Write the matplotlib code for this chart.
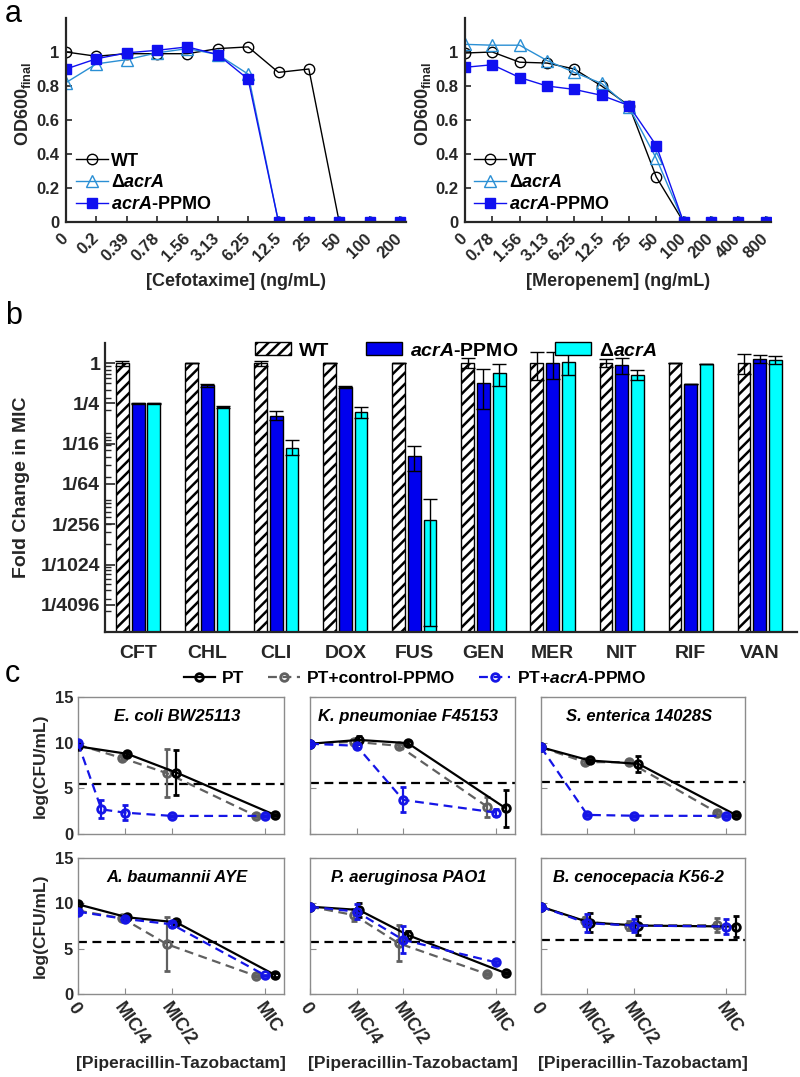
import numpy as np
import matplotlib
matplotlib.use('Agg')
import matplotlib.pyplot as plt
from matplotlib.lines import Line2D
from matplotlib.patches import Patch
from matplotlib.ticker import FixedLocator, NullFormatter, FixedFormatter

plt.rcParams['font.family'] = ['Liberation Sans', 'DejaVu Sans']
plt.rcParams['font.weight'] = 'bold'
plt.rcParams['axes.labelweight'] = 'bold'
plt.rcParams['hatch.linewidth'] = 1.8
plt.rcParams['mathtext.fontset'] = 'custom'
plt.rcParams['mathtext.rm'] = 'Liberation Sans:bold'
plt.rcParams['mathtext.it'] = 'Liberation Sans:italic:bold'
plt.rcParams['mathtext.bf'] = 'Liberation Sans:bold'
TXT = '#262626'

# ---------------- data: panel a ----------------
cefo_labels = ['0', '0.2', '0.39', '0.78', '1.56', '3.13', '6.25', '12.5', '25', '50', '100', '200']
cefo_wt = [1.00, 0.975, 0.99, 0.99, 0.99, 1.02, 1.03, 0.88, 0.90, 0, 0, 0]
cefo_dacrA = [0.82, 0.93, 0.955, 0.995, 1.02, 0.985, 0.87, 0, 0, 0, 0, 0]
cefo_ppmo = [0.90, 0.96, 0.995, 1.01, 1.03, 0.985, 0.84, 0, 0, 0, 0, 0]
mero_labels = ['0', '0.78', '1.56', '3.13', '6.25', '12.5', '25', '50', '100', '200', '400', '800']
mero_wt = [0.994, 1.0, 0.94, 0.935, 0.90, 0.80, 0.685, 0.265, 0, 0, 0, 0]
mero_dacrA = [1.045, 1.04, 1.04, 0.95, 0.88, 0.815, 0.675, 0.375, 0, 0, 0, 0]
mero_ppmo = [0.91, 0.925, 0.85, 0.80, 0.78, 0.745, 0.685, 0.45, 0, 0, 0, 0]

# ---------------- data: panel b (log2 fold change) ----------------
drugs = ['CFT', 'CHL', 'CLI', 'DOX', 'FUS', 'GEN', 'MER', 'NIT', 'RIF', 'VAN']
wt_log2 = [0, 0, 0, 0, 0, 0, 0, 0, 0, 0]
wt_err_lo = [0.13, 0, 0.13, 0, 0, 0.23, 0.82, 0.18, 0, 0.55]
wt_err_hi = [0.13, 0, 0.13, 0, 0, 0.28, 0.57, 0.20, 0, 0.43]
ppmo_log2 = [-2.0, -1.1, -2.6, -1.18, -4.6, -0.97, 0.03, -0.08, -1.02, 0.23]
ppmo_err_lo = [0.02, 0.08, 0.2, 0.05, 0.78, 1.3, 0.8, 0.47, 0, 0.22]
ppmo_err_hi = [0.02, 0.08, 0.2, 0.05, 0.5, 0.67, 0.5, 0.35, 0, 0.17]
dacr_log2 = [-2.0, -2.2, -4.2, -2.43, -7.77, -0.47, 0.07, -0.57, -0.02, 0.17]
dacr_err_lo = [0.03, 0.05, 0.37, 0.3, 5.3, 0.67, 0.67, 0.28, 0, 0.23]
dacr_err_hi = [0.03, 0.05, 0.37, 0.25, 1.0, 0.45, 0.45, 0.22, 0, 0.17]
b_yticks = [1, 1/4, 1/16, 1/64, 1/256, 1/1024, 1/4096]
b_yticklabels = ['1', '1/4', '1/16', '1/64', '1/256', '1/1024', '1/4096']

# ---------------- data: panel c ----------------
strains = ['E. coli BW25113', 'K. pneumoniae F45153', 'S. enterica 14028S',
           'A. baumannii AYE', 'P. aeruginosa PAO1', 'B. cenocepacia K56-2']
c_xticks = [0, 0.25, 0.5, 1]
c_xticklabels = ['0', 'MIC/4', 'MIC/2', 'MIC']
pt_x = [0, 0.25, 0.5, 1]
pt_y = [[9.6, 8.78, 6.73, 2.09], [9.88, 10.3, 9.95, 2.82], [9.5, 8.05, 7.68, 2.09],
        [9.89, 8.46, 7.9, 2.12], [9.63, 9.27, 6.5, 2.3], [9.63, 7.88, 7.55, 7.44]]
pt_err = [[0.2, 0.2, 2.5, 0.15], [0.1, 0.4, 0.2, 2.05], [0.1, 0.2, 0.9, 0.1],
          [0.3, 0.2, 0.2, 0.2], [0.1, 0.8, 0.5, 0.1], [0.1, 1.0, 1.0, 1.2]]
ctrl_y = [[9.77, 8.3, 6.66, 1.98], [9.88, 10.1, 9.66, 3.0], [9.5, 7.87, 7.87, 2.34],
          [9.19, 8.35, 5.49, 2.0], [9.63, 8.7, 5.6, 2.2], [9.63, 8.0, 7.55, 7.6]]
ctrl_err = [[0.2, 0.25, 2.6, 0.1], [0.1, 0.3, 0.2, 1.1], [0.1, 0.2, 0.2, 0.2],
            [0.2, 0.2, 3.0, 0.1], [0.1, 0.7, 2.0, 0.1], [0.1, 0.5, 0.5, 0.8]]
acr_x = [[0, 0.125, 0.25, 0.5, 1], [0, 0.25, 0.5, 1], [0, 0.25, 0.5, 1],
         [0, 0.25, 0.5, 1], [0, 0.25, 0.5, 1], [0, 0.25, 0.5, 1]]
acr_y = [[9.95, 2.7, 2.34, 1.98, 1.98], [9.88, 9.66, 3.73, 2.34], [9.5, 2.09, 2.0, 1.98],
         [9.08, 8.28, 7.69, 2.05], [9.63, 9.08, 5.97, 3.48], [9.63, 7.8, 7.55, 7.44]]
acr_err = [[0.2, 1.0, 0.8, 0.1, 0.1], [0.1, 0.2, 1.37, 0.35], [0.1, 0.1, 0.1, 0.1],
           [0.2, 0.2, 0.3, 0.1], [0.1, 0.8, 1.5, 0.2], [0.1, 1.0, 0.7, 0.8]]
lod = [5.49, 5.56, 5.67, 5.71, 5.71, 5.97]

W, H = 800, 1077
fig = plt.figure(figsize=(W / 100, H / 100), dpi=100)


def box(x0, y0, x1, y1):
    return [x0 / W, 1 - y1 / H, (x1 - x0) / W, (y1 - y0) / H]


C_WT = 'black'
C_DA = '#2A8FD4'
C_PP = '#1010F0'

# ---------------- panel a ----------------
def panel_a(rect, labels, wt, da, pp, xlabel, ylab_x):
    ax = fig.add_axes(rect)
    x = np.arange(len(labels))
    ax.plot(x, wt, '-o', color=C_WT, mfc='none', ms=7.5, mew=1.0, lw=1.0, label='WT')
    ax.plot(x, da, '-^', color=C_DA, mfc='none', ms=8, mew=1.0, lw=1.0, label=r'$\Delta$$\mathit{acrA}$')
    ax.plot(x, pp, '-s', color=C_PP, mfc=C_PP, ms=6.5, mew=1.0, lw=1.0, label=r'$\mathit{acrA}$-PPMO')
    ax.set_xlim(0, 11.2)
    ax.set_ylim(0, 1.2)
    ax.set_xticks(x)
    ax.set_xticklabels(labels, rotation=45, ha='right', va='center', rotation_mode='anchor')
    ax.set_yticks([0, 0.2, 0.4, 0.6, 0.8, 1.0])
    ax.set_yticklabels(['0', '0.2', '0.4', '0.6', '0.8', '1'])
    for s in ['top', 'right']:
        ax.spines[s].set_visible(False)
    for s in ['left', 'bottom']:
        ax.spines[s].set_linewidth(1.6)
        ax.spines[s].set_color('#262626')
    ax.tick_params(direction='in', length=4, width=1.2, labelsize=12, colors=TXT, pad=5)
    ax.tick_params(axis='x', pad=10)
    ax.text(0.5, -0.29, xlabel, transform=ax.transAxes, ha='center', va='center',
            fontsize=13, color=TXT)
    ax.set_ylabel(r'OD600$_{\mathregular{final}}$', fontsize=13, color=TXT)
    ax.yaxis.set_label_coords(ylab_x, 0.58)
    leg = ax.legend(loc='lower left', bbox_to_anchor=(0.03, 0.045), frameon=False,
                    fontsize=13, handlelength=1.75, handletextpad=0.2, labelspacing=0.25,
                    borderpad=0, borderaxespad=0)
    for t in leg.get_texts():
        t.set_color('black')
    return ax


panel_a(box(66, 18, 406, 222), cefo_labels, cefo_wt, cefo_dacrA, cefo_ppmo,
        '[Cefotaxime] (ng/mL)', -0.097)
panel_a(box(465, 18, 771, 222), mero_labels, mero_wt, mero_dacrA, mero_ppmo,
        '[Meropenem] (ng/mL)', -0.105)

# ---------------- panel b ----------------
axb = fig.add_axes(box(105, 343, 797, 632))
ymin = 2 ** -13.35
xb = np.arange(1, len(drugs) + 1)
off = 0.227
bw = 0.185


def bars(xpos, lg, lo, hi, **kw):
    lg = np.array(lg, float)
    val = 2 ** lg
    low = val - 2 ** (lg - np.array(lo))
    up = 2 ** (lg + np.array(hi)) - val
    axb.bar(xpos, val - ymin, bottom=ymin, width=bw, edgecolor='black', linewidth=1.0, zorder=2, **kw)
    axb.errorbar(xpos, val, yerr=[low, up], fmt='none', ecolor='black', elinewidth=1.0,
                 capsize=5, capthick=1.0, zorder=3)


bars(xb - off, wt_log2, wt_err_lo, wt_err_hi, facecolor='white', hatch='///')
bars(xb, ppmo_log2, ppmo_err_lo, ppmo_err_hi, facecolor='#0000EE')
bars(xb + off, dacr_log2, dacr_err_lo, dacr_err_hi, facecolor='#00FFFF')
axb.set_yscale('log', base=2)
axb.set_ylim(ymin, 2 ** 1)
axb.set_xlim(0.52, 10.54)
axb.set_xticks(xb)
axb.set_xticklabels(drugs)
axb.yaxis.set_major_locator(FixedLocator(b_yticks))
axb.yaxis.set_major_formatter(FixedFormatter(b_yticklabels))
minor_vals = [s * 10.0 ** k for k in range(-5, 1) for s in range(2, 10)]
minor_vals = [v for v in minor_vals if ymin < v < 1.0]
axb.yaxis.set_minor_locator(FixedLocator(minor_vals))
axb.yaxis.set_minor_formatter(NullFormatter())
for s in ['top', 'right']:
    axb.spines[s].set_visible(False)
for s in ['left', 'bottom']:
    axb.spines[s].set_linewidth(1.6)
    axb.spines[s].set_color('#262626')
axb.tick_params(axis='y', which='major', direction='in', length=7, width=1.2, labelsize=14, colors=TXT)
axb.tick_params(axis='y', which='minor', direction='in', length=4.5, width=1.0, colors=TXT)
axb.tick_params(axis='x', which='both', length=0, labelsize=14, colors=TXT, pad=9)
axb.set_ylabel('Fold Change in MIC', fontsize=14, color=TXT)
axb.yaxis.set_label_coords(-0.108, 0.5)
hb = [Patch(facecolor='white', edgecolor='black', hatch='///', linewidth=1.0),
      Patch(facecolor='#0000EE', edgecolor='black', linewidth=1.0),
      Patch(facecolor='#00FFFF', edgecolor='black', linewidth=1.0)]
fig.legend(hb, ['WT', r'$\mathit{acrA}$-PPMO', r'$\Delta$$\mathit{acrA}$'], loc='center',
           bbox_to_anchor=(456 / W, 1 - 351 / H), ncol=3, frameon=False, fontsize=14,
           handlelength=1.85, handleheight=0.62, handletextpad=0.45, columnspacing=1.85)

# ---------------- panel c ----------------
cols = [(78, 284), (310, 515), (541, 745)]
rows = [(697, 834), (858, 994)]
C_CTRL = '#606060'
C_ACR = '#1515E6'
for i, name in enumerate(strains):
    r, c = divmod(i, 3)
    ax = fig.add_axes(box(cols[c][0], rows[r][0], cols[c][1], rows[r][1]))
    ax.axhline(lod[i], color='black', ls=(0, (4, 2.5)), lw=1.6, zorder=1)
    xc = np.array(pt_x) * 0.95
    ax.errorbar(xc, ctrl_y[i], yerr=ctrl_err[i], fmt='o', ls=(0, (4, 2.5)), color=C_CTRL,
                mfc='none', ms=5.5, mew=2.0, lw=1.6, elinewidth=1.6, capsize=2, zorder=2)
    xp = np.array(pt_x) * 1.05
    ax.errorbar(xp, pt_y[i], yerr=pt_err[i], fmt='o-', color='black',
                mfc='none', ms=5.5, mew=2.0, lw=1.6, elinewidth=1.6, capsize=2, zorder=3)
    ax.errorbar(acr_x[i], acr_y[i], yerr=acr_err[i], fmt='o', ls=(0, (4, 2.5)), color=C_ACR,
                mfc='none', ms=5.5, mew=2.0, lw=1.6, elinewidth=1.6, capsize=2, zorder=4)
    ax.set_xlim(0, 1.1)
    ax.set_ylim(0, 15)
    ax.set_xticks(c_xticks)
    ax.set_yticks([0, 5, 10, 15])
    for s in ax.spines.values():
        s.set_color('#8c8c8c')
        s.set_linewidth(1.0)
    ax.tick_params(direction='in', length=4, width=0.8, color='#8c8c8c', labelcolor=TXT,
                   labelsize=12)
    if c == 0:
        ax.set_ylabel('log(CFU/mL)', fontsize=12.5, color=TXT)
        ax.yaxis.set_label_coords(-0.146, 0.5)
    else:
        ax.set_yticklabels([])
    if r == 1:
        ax.set_xticklabels(c_xticklabels, rotation=-55, ha='left', va='top',
                           rotation_mode='anchor', fontsize=13)
        ax.tick_params(axis='x', pad=4)
        ax.text(0.5, -0.51, '[Piperacillin-Tazobactam]', transform=ax.transAxes,
                ha='center', va='center', fontsize=12.5, color=TXT)
    else:
        ax.set_xticklabels([])
    ax.text(0.48, 0.86, name, transform=ax.transAxes, ha='center', va='center',
            fontsize=12, style='italic', color='black')

hc = [Line2D([], [], color='black', marker='o', mfc='none', ms=5.5, mew=2.0, lw=1.6),
      Line2D([], [], color=C_CTRL, ls=(0, (4, 2.5)), marker='o', mfc='none', ms=5.5, mew=2.0, lw=1.6),
      Line2D([], [], color=C_ACR, ls=(0, (4, 2.5)), marker='o', mfc='none', ms=5.5, mew=2.0, lw=1.6)]
fig.legend(hc, ['PT', 'PT+control-PPMO', r'PT+$\mathit{acrA}$-PPMO'], loc='center',
           bbox_to_anchor=(415 / W, 1 - 678 / H), ncol=3, frameon=False, fontsize=12.5,
           handlelength=1.8, handletextpad=0.4, columnspacing=1.4)

# panel labels
fig.text(5 / W, 1 - 14 / H, 'a', fontsize=22, fontweight='normal', va='center', ha='left')
fig.text(5 / W, 1 - 316 / H, 'b', fontsize=22, fontweight='normal', va='center', ha='left')
fig.text(5 / W, 1 - 674 / H, 'c', fontsize=22, fontweight='normal', va='center', ha='left')

fig.savefig('out.png', dpi=100)
